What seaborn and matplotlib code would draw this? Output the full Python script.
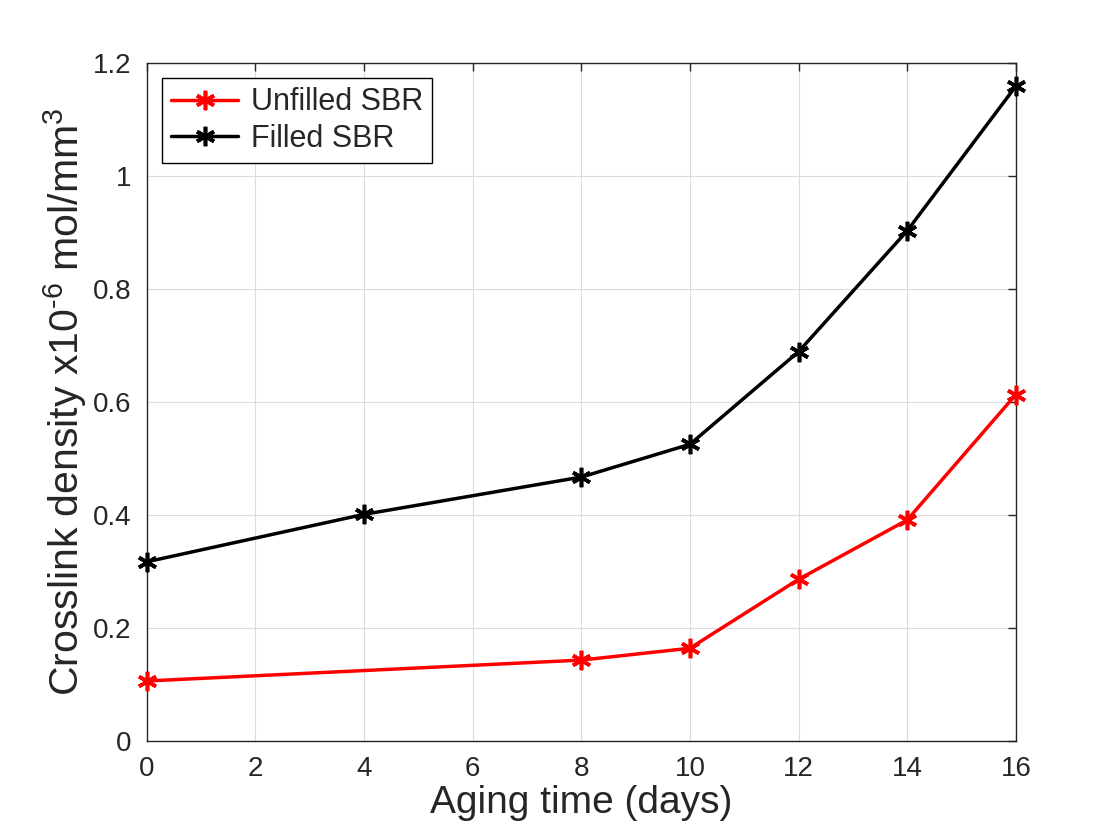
import numpy as np
import pandas as pd
import matplotlib
matplotlib.use("Agg")
import matplotlib.pyplot as plt
import seaborn as sns

### data
days_unfilled = [0, 8, 10, 12, 14, 16]
dens_unfilled = [0.106, 0.143, 0.164, 0.286, 0.391, 0.613]
days_filled = [0, 4, 8, 10, 12, 14, 16]
dens_filled = [0.317, 0.401, 0.467, 0.525, 0.689, 0.903, 1.159]

sns.set_style("white")
plt.rcParams['font.family'] = ['Liberation Sans', 'DejaVu Sans']
plt.rcParams['mathtext.fontset'] = 'custom'
plt.rcParams['mathtext.rm'] = 'Liberation Sans'
plt.rcParams['mathtext.it'] = 'Liberation Sans'

fig = plt.figure(figsize=(11.2, 8.4), dpi=100)
ax = fig.add_axes([0.131, 0.118, 0.776, 0.807])

# one call per series so the marker colour stays the line colour
for xs, ys, col, lab in [(days_unfilled, dens_unfilled, '#ff0000', 'Unfilled SBR'),
                         (days_filled, dens_filled, 'black', 'Filled SBR')]:
    sns.lineplot(x=xs, y=ys, color=col, label=lab, ax=ax,
                 marker=(6, 2, 0), markersize=14, markeredgewidth=2.6,
                 markeredgecolor=col, markerfacecolor=col,
                 linewidth=2.5, linestyle='-', clip_on=False, zorder=3)

ax.set_xlim(0, 16)
ax.set_ylim(0, 1.2)
ax.set_xticks(np.arange(0, 17, 2))
ax.set_yticks(np.arange(0, 1.21, 0.2))
ax.set_yticklabels(['0', '0.2', '0.4', '0.6', '0.8', '1', '1.2'])
ax.grid(True, color='#dcdcdc', linewidth=0.8)
ax.tick_params(direction='in', length=6, width=1, labelsize=20, colors='#262626',
               top=True, right=True, pad=11)
for s in ax.spines.values():
    s.set_visible(True)
    s.set_color('#262626')
    s.set_linewidth(1)

ax.set_xlabel('Aging time (days)', fontsize=28, color='#262626', labelpad=2)
ax.set_ylabel(r'Crosslink density x10$^{\text{-6}}$ mol/mm$^{3}$', fontsize=29.5,
              color='#262626', labelpad=3)

leg = ax.legend(loc='upper left', fontsize=22, frameon=True, fancybox=False,
                edgecolor='black', framealpha=1, handlelength=2.2,
                borderaxespad=0.5, labelspacing=0.2, borderpad=0.3, handletextpad=0.4)
leg.get_frame().set_linewidth(1)

fig.savefig('out.png', dpi=100)
